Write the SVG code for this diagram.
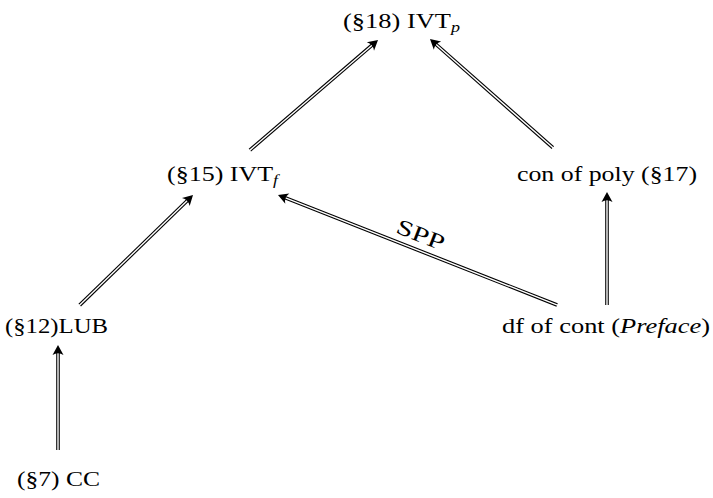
<svg xmlns="http://www.w3.org/2000/svg" width="713" height="498" viewBox="0 0 713 498">
  <style>
    .lbl { font-family: "Liberation Serif", "DejaVu Serif", serif; font-size: 22px; fill: #000; }
    .sub { font-size: 15px; font-style: italic; }
    .it { font-style: italic; }
    .outer { stroke: #000; stroke-width: 3.6; fill: none; }
    .inner { stroke: #fff; stroke-width: 1.4; fill: none; }
  </style>
  <defs>
    <!-- double-shaft arrow tip, pointing along +x with its point at the origin -->
    <path id="tip" d="M0,0 L-10,-5.5 Q-6.5,0 -10,5.5 Z" fill="#000"/>
  </defs>
  <rect width="713" height="498" fill="#fff"/>

  <g id="connectors">
    <!-- LUB to IVT_f -->
    <g transform="translate(193,195) rotate(-44.2)">
      <line class="outer" x1="-158" y1="0" x2="-6" y2="0"/>
      <line class="inner" x1="-159" y1="0" x2="-6" y2="0"/>
      <use href="#tip"/>
    </g>
    <!-- CC to LUB -->
    <g transform="translate(58,345) rotate(-90)">
      <line class="outer" x1="-105" y1="0" x2="-6" y2="0"/>
      <line class="inner" x1="-106" y1="0" x2="-6" y2="0"/>
      <use href="#tip"/>
    </g>
    <!-- IVT_f to IVT_p -->
    <g transform="translate(378,40) rotate(-40.7)">
      <line class="outer" x1="-169" y1="0" x2="-6" y2="0"/>
      <line class="inner" x1="-170" y1="0" x2="-6" y2="0"/>
      <use href="#tip"/>
    </g>
    <!-- con of poly to IVT_p -->
    <g transform="translate(430,39) rotate(-138.5)">
      <line class="outer" x1="-164" y1="0" x2="-6" y2="0"/>
      <line class="inner" x1="-165" y1="0" x2="-6" y2="0"/>
      <use href="#tip"/>
    </g>
    <!-- df of cont to con of poly -->
    <g transform="translate(607,192) rotate(-90)">
      <line class="outer" x1="-113" y1="0" x2="-6" y2="0"/>
      <line class="inner" x1="-114" y1="0" x2="-6" y2="0"/>
      <use href="#tip"/>
    </g>
    <!-- df of cont to IVT_f, labelled SPP -->
    <g transform="translate(278,195) rotate(-158.5)">
      <line class="outer" x1="-300" y1="0" x2="-6" y2="0"/>
      <line class="inner" x1="-301" y1="0" x2="-6" y2="0"/>
      <use href="#tip"/>
    </g>
    <text class="lbl" x="421" y="242" text-anchor="middle" textLength="50" lengthAdjust="spacingAndGlyphs" transform="rotate(21.5 421 234)">SPP</text>
  </g>

  <g id="ivt-p">
    <text class="lbl" x="343" y="28" textLength="117" lengthAdjust="spacingAndGlyphs">(§18) IVT<tspan class="sub" dy="4">p</tspan></text>
  </g>
  <g id="ivt-f">
    <text class="lbl" x="167" y="181" textLength="111" lengthAdjust="spacingAndGlyphs">(§15) IVT<tspan class="sub" dy="4">f</tspan></text>
  </g>
  <g id="con-poly">
    <text class="lbl" x="517" y="181" textLength="180" lengthAdjust="spacingAndGlyphs">con of poly (§17)</text>
  </g>
  <g id="lub">
    <text class="lbl" x="5" y="333" textLength="103" lengthAdjust="spacingAndGlyphs">(§12)LUB</text>
  </g>
  <g id="df-cont">
    <text class="lbl" x="502" y="333" textLength="208" lengthAdjust="spacingAndGlyphs">df of cont (<tspan class="it">Preface</tspan>)</text>
  </g>
  <g id="cc">
    <text class="lbl" x="17" y="486" textLength="83" lengthAdjust="spacingAndGlyphs">(§7) CC</text>
  </g>
</svg>
